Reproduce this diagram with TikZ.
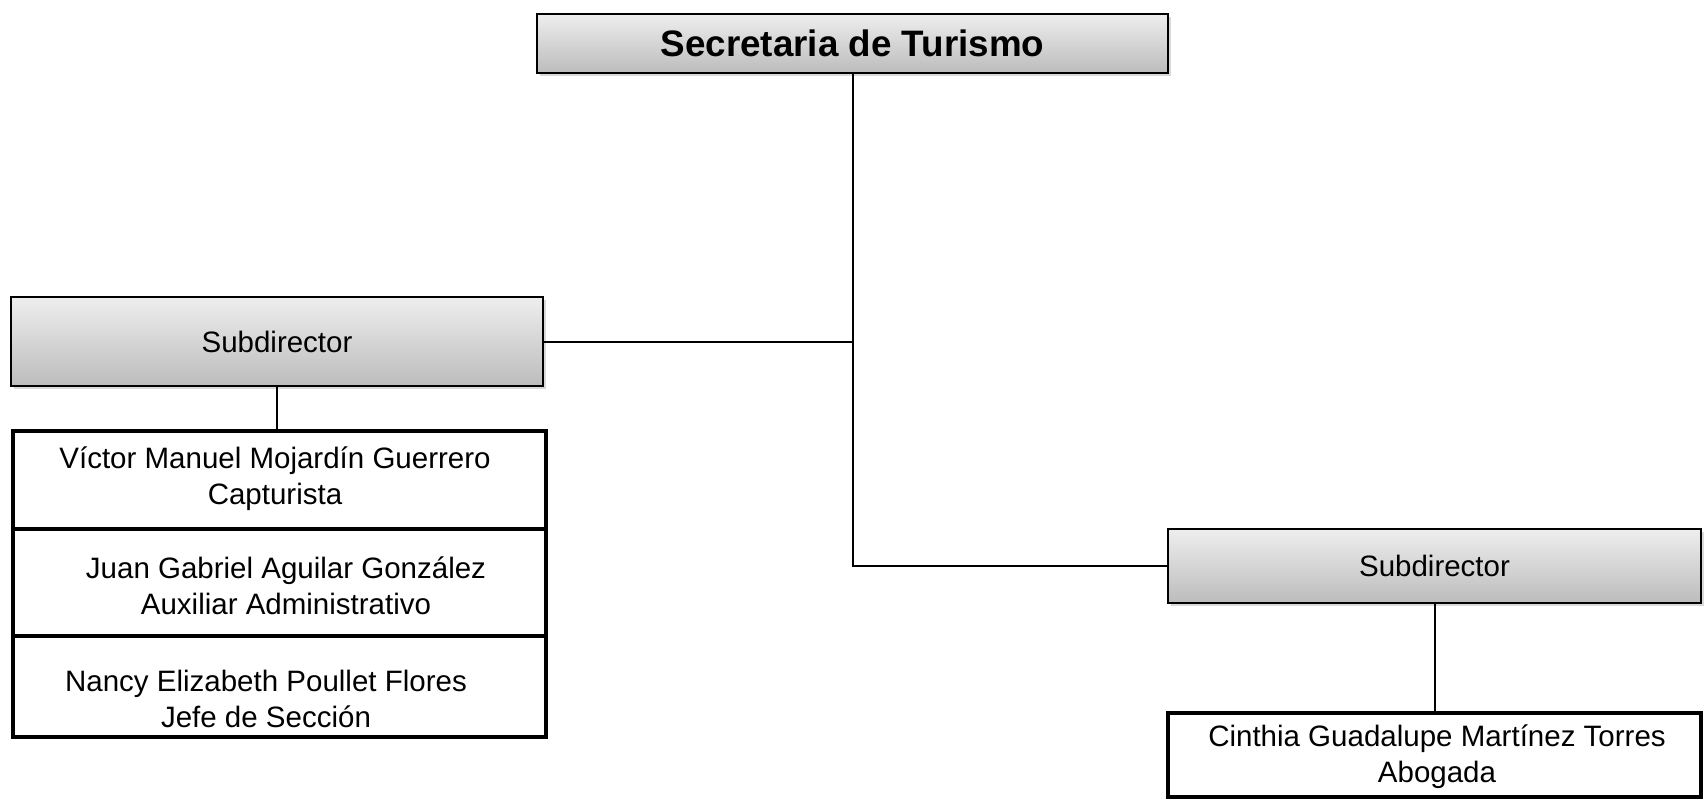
\documentclass[tikz,border=0pt]{standalone}
\usepackage{fontspec}
\setmainfont{Liberation Sans}
\usetikzlibrary{shadows}

\definecolor{boxtop}{RGB}{238,238,238}
\definecolor{boxbot}{RGB}{188,188,188}

\tikzset{every picture/.style={line width=1pt}}
\tikzset{
  cargo/.style={draw, line width=1pt, top color=boxtop, bottom color=boxbot, inner sep=0pt,
    drop shadow={opacity=0.3, shadow xshift=1.5pt, shadow yshift=-1.5pt}},
  persona/.style={draw, line width=2pt, fill=white, inner sep=0pt},
  nombre/.style={align=center, inner sep=0pt, font=\fontsize{14.75}{18}\selectfont},
}

\begin{document}
\begin{tikzpicture}[x=0.5pt,y=0.5pt,yscale=-1,xscale=1]
\useasboundingbox (0,0) rectangle (1704,800);

% Secretaria
\node [cargo, minimum width=315.5pt, minimum height=29.5pt, font=\fontsize{18.4}{22}\selectfont\bfseries] (sec) at (852.5,43.5) {Secretaria de Turismo};

% Subdirector (izquierda)
\node [cargo, minimum width=266pt, minimum height=44.5pt, font=\fontsize{14.75}{18}\selectfont] (subi) at (277,341.5) {Subdirector};
% Subdirector (derecha)
\node [cargo, minimum width=266.5pt, minimum height=37pt, font=\fontsize{14.75}{18}\selectfont] (subd) at (1434.5,566) {Subdirector};

% Personal (izquierda)
\node [persona, minimum width=266.5pt, minimum height=49pt] (fila1) at (279.5,480) {};
\node [persona, minimum width=266.5pt, minimum height=53.5pt] (fila2) at (279.5,582.5) {};
\node [persona, minimum width=266.5pt, minimum height=50.5pt] (fila3) at (279.5,686.5) {};
% Text Node
\node [nombre] (txt1) at (275,479) {Víctor Manuel Mojardín Guerrero\\Capturista};
% Text Node
\node [nombre] (txt2) at (286,586) {Juan Gabriel Aguilar González\\Auxiliar Administrativo};
% Text Node
\node [nombre] (txt3) at (266,699) {Nancy Elizabeth Poullet Flores\\Jefe de Sección};

% Personal (derecha)
\node [persona, minimum width=266.5pt, minimum height=42pt] (emp) at (1434.5,755) {};
% Text Node
\node [nombre] (txt4) at (1437,756.5) {Cinthia Guadalupe Martínez Torres\\Abogada};

% Lineas
\draw (sec.south) |- (subd.west);
\draw (subi.east) -- (subi.east -| sec.south);
\draw (subi.south) -- (subi.south |- fila1.north);
\draw (subd.south) -- (subd.south |- emp.north);

\end{tikzpicture}
\end{document}
